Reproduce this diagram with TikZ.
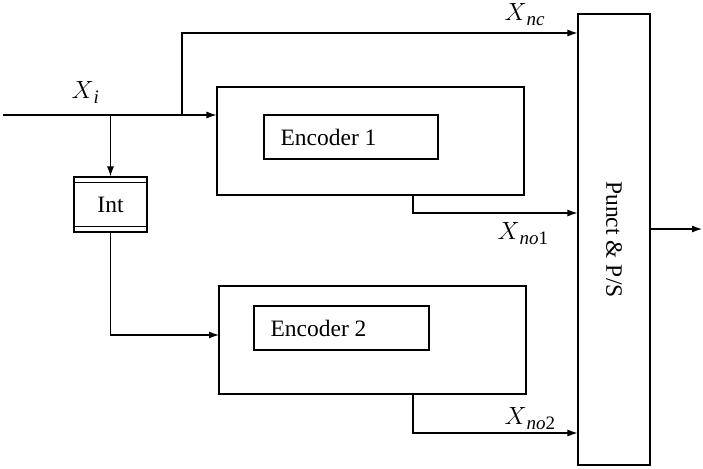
\documentclass[tikz,border=0pt]{standalone}
\usepackage{fontspec}
\setmainfont{Liberation Serif}
\usetikzlibrary{arrows.meta,calc}
\newcommand{\mysub}[2]{\raisebox{-5pt}{\fontsize{19}{21}\selectfont\itshape #1\upshape #2}}
\begin{document}
\begin{tikzpicture}[x=1pt,y=-1pt,
  line width=1.1pt,
  box/.style={draw,rectangle,inner sep=0pt,line width=1.1pt},
  arr/.style={-{Latex[length=10pt,width=7pt]}},
  txt/.style={font=\fontsize{23.5}{27}\selectfont,inner sep=0pt},
  mlab/.style={font=\fontsize{24}{28}\selectfont,inner sep=0pt}]
\useasboundingbox (0,0) rectangle (703,468);
% blocks
\node[box,minimum width=307pt,minimum height=108pt] (e1) at (370.5,141) {};
\node[box,minimum width=174pt,minimum height=44pt] (e1in) at (351,137) {};
\node[txt,anchor=base west] (e1t) at (280,145) {Encoder 1};
\node[box,minimum width=307pt,minimum height=108pt] (e2) at (372.5,340) {};
\node[box,minimum width=175pt,minimum height=44pt] (e2in) at (341.5,328) {};
\node[txt,anchor=base west] (e2t) at (270,336) {Encoder 2};
\node[box,minimum width=73pt,minimum height=55pt,txt] (int) at (110.5,204.5) {Int};
\draw ([yshift=-6pt]int.north west) -- ([yshift=-6pt]int.north east);
\draw ([yshift=6pt]int.south west) -- ([yshift=6pt]int.south east);
\node[box,minimum width=72pt,minimum height=451pt] (pp) at (614,239.5) {};
\node[txt,rotate=-90] (ppt) at (614,239.5) {Punct \& P/S};
% coordinates
\coordinate (in) at (3,115);
\coordinate (b1) at (182,115);
\coordinate (b2) at (182,33);
\coordinate (p2) at (219,335);
\coordinate (o1) at (413,195);
\coordinate (o1b) at (413,213);
\coordinate (o2) at (413,394);
\coordinate (o2b) at (413,433);
\coordinate (outs) at (650,229);
\coordinate (oute) at (702,229);
% connectors
\draw[arr] (in) -- (in -| e1.west);
\draw[arr] (in -| int.north) -- (int.north);
\draw[arr] (b1) -- (b2) -- (b2 -| pp.west);
\draw[arr] (int.south) |- (p2);
\draw[arr] (o1) -- (o1b) -- (o1b -| pp.west);
\draw[arr] (o2) -- (o2b) -- (o2b -| pp.west);
\draw[arr] (outs) -- (oute);
% labels
\node[mlab,anchor=base west] (lxi) at (71,99) {$X$\mysub{i}{}};
\node[mlab,anchor=base west] (lxnc) at (504,21) {$X$\mysub{nc}{}};
\node[mlab,anchor=base west] (lxno1) at (497,239) {$X$\mysub{no}{1}};
\node[mlab,anchor=base west] (lxno2) at (504,424) {$X$\mysub{no}{2}};
\end{tikzpicture}
\end{document}
